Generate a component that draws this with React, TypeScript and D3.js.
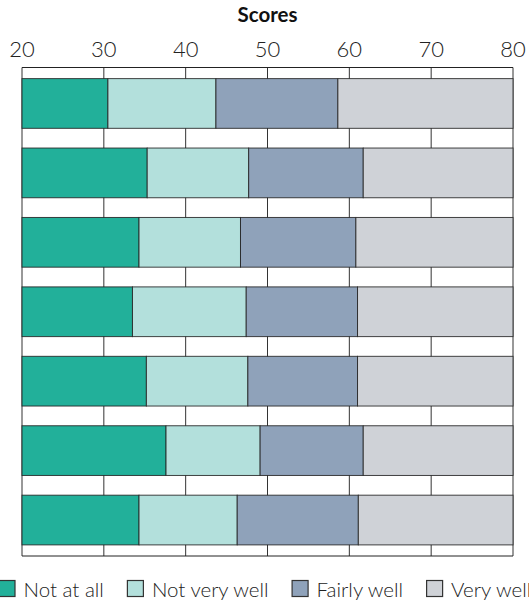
import React, { useEffect, useRef } from "react";
import * as d3 from "d3";

const rows = ["r1", "r2", "r3", "r4", "r5", "r6", "r7"];
const seriesNames = ["Not at all", "Not very well", "Fairly well", "Very well"];
const seriesColors = ["#22b09a", "#b3e0dc", "#8fa2ba", "#cfd2d7"];
// score at which each segment ends (stack starts at the axis minimum)
const notAtAllEnd = [30.5, 35.3, 34.3, 33.5, 35.2, 37.6, 34.3];
const notVeryWellEnd = [43.7, 47.7, 46.7, 47.4, 47.6, 49.1, 46.3];
const fairlyWellEnd = [58.6, 61.7, 60.8, 61.0, 61.0, 61.7, 61.1];
const veryWellEnd = [80, 80, 80, 80, 80, 80, 80];
const tickValues = [20, 30, 40, 50, 60, 70, 80];
const axisTitle = "Scores";

const W = 529;
const H = 601;
const FONT = "Lato, 'Noto Sans', sans-serif";

export default function App() {
  const ref = useRef<SVGSVGElement | null>(null);

  useEffect(() => {
    document.body.style.margin = "0";
    const svg = d3.select(ref.current);
    svg.selectAll("*").remove();

    const left = 22, right = 513, top = 67.5, bottom = 556;
    const x = d3.scaleLinear().domain([20, 80]).range([left, right]);
    const y = d3.scaleBand<string>().domain(rows).range([top, bottom]).paddingInner(0.284).paddingOuter(0.16);

    // title
    svg.append("text").attr("x", (left + right) / 2).attr("y", 22).attr("text-anchor", "middle")
      .attr("font-family", FONT).attr("font-weight", 700).attr("font-size", 20.5).attr("fill", "#111").text(axisTitle);

    // tick labels
    svg.append("g").selectAll("text").data(tickValues).join("text")
      .attr("x", (d) => x(d)).attr("y", 57.3).attr("text-anchor", "middle")
      .attr("font-family", FONT).attr("font-weight", 300).attr("font-size", 22).attr("fill", "#222")
      .text((d) => String(d));

    // grid
    svg.append("g").selectAll("line").data(tickValues).join("line")
      .attr("x1", (d) => x(d)).attr("x2", (d) => x(d)).attr("y1", top).attr("y2", bottom)
      .attr("stroke", "#333").attr("stroke-width", 1);
    svg.append("line").attr("x1", left).attr("x2", right).attr("y1", top).attr("y2", top).attr("stroke", "#222");
    svg.append("line").attr("x1", left).attr("x2", right).attr("y1", bottom).attr("y2", bottom).attr("stroke", "#222");

    const ends = [notAtAllEnd, notVeryWellEnd, fairlyWellEnd, veryWellEnd];
    const segs: { row: string; s: number; x0: number; x1: number }[] = [];
    rows.forEach((r, i) => {
      let prev = 20;
      ends.forEach((arr, s) => {
        segs.push({ row: r, s, x0: prev, x1: arr[i] });
        prev = arr[i];
      });
    });
    svg.append("g").selectAll("rect").data(segs).join("rect")
      .attr("x", (d) => x(d.x0)).attr("width", (d) => x(d.x1) - x(d.x0))
      .attr("y", (d) => y(d.row)!).attr("height", y.bandwidth())
      .attr("fill", (d) => seriesColors[d.s]).attr("stroke", "#222").attr("stroke-opacity", 0.85).attr("stroke-width", 1);

    // legend
    const lg = svg.append("g");
    const box = 16, gapText = 8.5, gapItem = 23.5;
    const items = seriesNames.map((name, i) => {
      const g = lg.append("g");
      g.append("rect").attr("x", 0).attr("y", -box).attr("width", box).attr("height", box)
        .attr("fill", seriesColors[i]).attr("stroke", "#333").attr("stroke-width", 1.2);
      const t = g.append("text").attr("x", box + gapText).attr("y", 0).attr("font-family", FONT)
        .attr("font-weight", 300).attr("font-size", 20.5).attr("fill", "#222").text(name);
      const w = (t.node() as SVGTextElement).getComputedTextLength();
      return { g, w: box + gapText + w };
    });
    let cx = -1;
    items.forEach((it) => {
      it.g.attr("transform", `translate(${cx},596.5)`);
      cx += it.w + gapItem;
    });
  }, []);

  return <svg ref={ref} width={W} height={H} style={{ display: "block", overflow: "hidden" }} />;
}
